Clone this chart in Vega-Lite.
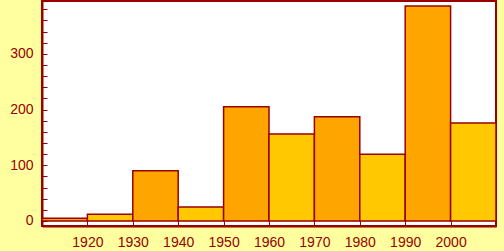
{
  "$schema": "https://vega.github.io/schema/vega-lite/v6.json",
  "width": 454,
  "height": 225,
  "autosize": {"type": "none"},
  "padding": {"left": 42, "top": 1, "right": 8, "bottom": 25},
  "background": "#FFFF9F",
  "config": {
    "view": {"fill": "white", "stroke": "#990000", "strokeWidth": 2},
    "axis": {
      "domainColor": "#990000",
      "domainWidth": 2,
      "tickColor": "#990000",
      "tickWidth": 1,
      "labelColor": "#990000",
      "labelFont": "Liberation Sans",
      "labelFontSize": 14,
      "grid": false,
      "title": null
    }
  },
  "data": {
    "values": [
      {"start": 1910, "end": 1920, "count": 5},
      {"start": 1920, "end": 1930, "count": 12},
      {"start": 1930, "end": 1940, "count": 90},
      {"start": 1940, "end": 1950, "count": 25},
      {"start": 1950, "end": 1960, "count": 205},
      {"start": 1960, "end": 1970, "count": 156},
      {"start": 1970, "end": 1980, "count": 187},
      {"start": 1980, "end": 1990, "count": 120},
      {"start": 1990, "end": 2000, "count": 386},
      {"start": 2000, "end": 2010, "count": 176}
    ]
  },
  "mark": {"type": "bar", "stroke": "#990000", "strokeWidth": 1.5},
  "encoding": {
    "x": {
      "field": "start",
      "type": "quantitative",
      "scale": {"domain": [1910, 2010], "nice": false, "zero": false},
      "axis": {
        "values": [1920, 1930, 1940, 1950, 1960, 1970, 1980, 1990, 2000],
        "format": "d",
        "tickSize": -5,
        "labelPadding": 14
      }
    },
    "x2": {"field": "end"},
    "y": {
      "field": "count",
      "type": "quantitative",
      "scale": {"domain": [-9, 395], "nice": false, "zero": false},
      "axis": {
        "values": [0, 20, 40, 60, 80, 100, 120, 140, 160, 180, 200, 220, 240, 260, 280, 300, 320, 340, 360, 380],
        "labelExpr": "datum.value % 100 == 0 ? datum.label : ''",
        "tickSize": -5,
        "labelPadding": 14
      }
    },
    "y2": {"datum": 0},
    "color": {
      "condition": {"test": "datum.start % 20 == 10", "value": "#FFA500"},
      "value": "#FFC800"
    }
  }
}
